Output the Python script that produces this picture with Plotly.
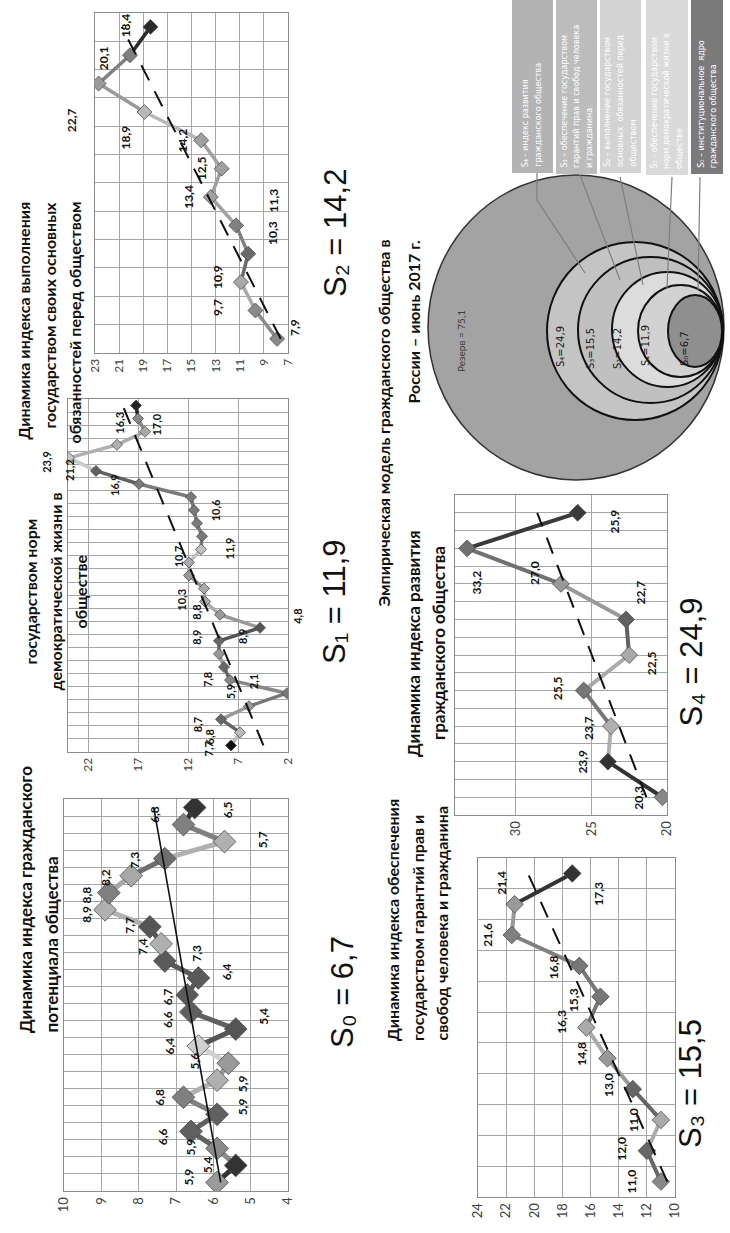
import numpy as np
import plotly.graph_objects as go

W, H = 730, 1233


def px(x):
    return x / W


def py(y):
    return 1 - y / H


def fmt(v):
    return f"{v:.1f}".replace(".", ",")


# ---------------- data ----------------
s0_values = [5.9, 5.4, 5.9, 6.6, 5.9, 6.8, 5.9, 5.6, 6.4, 5.4, 6.6, 6.7, 6.4, 7.3, 7.4, 7.7,
             8.9, 8.8, 8.2, 7.3, 5.7, 6.8, 6.5]
s1_values = [7.7, 6.8, 8.7, 5.9, 2.1, 7.8, 8.4, 8.9, 8.9, 4.8, 8.8, 10.3, 10.4, 11.9, 11.9,
             10.7, 10.6, 11.1, 11.4, 11.7, 16.9, 21.2, 23.9, 19.1, 16.3, 17.0, 17.2]
s2_values = [7.9, 9.7, 10.9, 10.3, 11.3, 13.4, 12.5, 14.2, 18.9, 22.7, 20.1, 18.4]
s3_values = [11.0, 12.0, 11.0, 13.0, 14.8, 16.3, 15.3, 16.8, 21.6, 21.4, 17.3]
s4_values = [20.3, 23.9, 23.7, 25.5, 22.5, 22.7, 27.0, 33.2, 25.9]

s0_ticks = [4, 5, 6, 7, 8, 9, 10]
s1_ticks = [2, 7, 12, 17, 22]
s2_ticks = [7, 9, 11, 13, 15, 17, 19, 21, 23]
s3_ticks = [10, 12, 14, 16, 18, 20, 22, 24]
s4_ticks = [20, 25, 30]

index_names = ["S₀", "S₁", "S₂", "S₃", "S₄"]
index_values = [6.7, 11.9, 14.2, 15.5, 24.9]
reserve_value = 75.1

s0_title = ["Динамика индекса гражданского", "потенциала общества"]
s1_title = ["государством норм", "демократической жизни в", "обществе"]
s2_title = ["Динамика индекса выполнения", "государством своих основных",
            "обязанностей перед обществом"]
s3_title = ["Динамика индекса обеспечения", "государством гарантий прав и",
            "свобод человека и гражданина"]
s4_title = ["Динамика индекса развития", "гражданского общества"]
model_title = ["Эмпирическая модель гражданского общества в", "России – июнь 2017 г."]

legend_texts = [
    ["S₄ - индекс развития", "гражданского общества"],
    ["S₃ – обеспечение государством", "гарантий прав и свобод человека", "и гражданина"],
    ["S₂ – выполнение государством", "основных  обязанностей перед", "обществом"],
    ["S₁ - обеспечение государством", "норм демократической жизни в", "обществе"],
    ["S₀ – институциональное  ядро", "гражданского общества"],
]

# ---------------- styling / layout constants ----------------
LAB_FONT = "Lato, 'Open Sans', Arial"
GRID = "#a6a6a6"

charts = [
    dict(values=s2_values, ticks=s2_ticks, rng=[7, 23], box=(95, 288, 12.7, 353), ydtick=1,
         colors=['#8a8a8a', '#8a8a8a', '#a8a8a8', '#6a6a6a', '#808080', '#a0a0a0', '#a0a0a0',
                 '#a0a0a0', '#b8b8b8', '#9a9a9a', '#808080', '#2a2a2a'],
         msize=11.5, lw=3.5, trend="dash", tfs=12, lfs=12,
         labels=[(0, 18, -11), (1, -38, -3), (2, -24, -5), (3, 25, -21), (4, 37, -25),
                 (5, -23, 0), (6, -20, 0), (7, -19, 0), (8, -19, 25), (9, -27, 37),
                 (10, -27, 3), (11, -25, -2)],
         title=s2_title, title_x=[11, 37.5, 62], title_y=200, title_fs=16,
         sname=2, spos=(335, 167)),
    dict(values=s1_values, ticks=s1_ticks, rng=[2, 24], box=(68, 288, 399, 752), ydtick=1,
         colors=['#111111', '#bbbbbb', '#666666', '#999999', '#777777', '#888888', '#666666',
                 '#999999', '#666666', '#555555', '#999999', '#aaaaaa', '#aaaaaa', '#999999',
                 '#aaaaaa', '#c0c0c0', '#7a7a7a', '#7a7a7a', '#7a7a7a', '#7a7a7a', '#7a7a7a',
                 '#606060', '#c8c8c8', '#b0b0b0', '#aaaaaa', '#888888', '#222222'],
         msize=8.5, lw=3.5, trend="dash", tfs=12, lfs=11,
         labels=[(0, -23, 4), (1, -31, 5), (2, -24, 6), (3, -19, -14), (4, -34, -11),
                 (5, -23, 0), (7, 24, -17), (8, -22, -3), (9, 38, -11), (10, -23, -2),
                 (11, -23, -2), (14, 40, -14), (15, -23, 7), (16, 13, -26), (20, -24, 1),
                 (21, -26, -1), (22, -22, 4), (24, -25, -9), (25, 19, 6)],
         title=s1_title, title_x=[18, 43, 68], title_y=592, title_fs=16,
         sname=1, spos=(335, 602)),
    dict(values=s0_values, ticks=s0_ticks, rng=[4, 10], box=(64, 288, 799, 1191), ydtick=1,
         colors=['#9a9a9a', '#333333', '#8a8a8a', '#606060', '#606060', '#808080', '#b0b0b0',
                 '#9a9a9a', '#d0d0d0', '#555555', '#606060', '#5a5a5a', '#5a5a5a', '#5a5a5a',
                 '#b0b0b0', '#555555', '#b0b0b0', '#808080', '#a8a8a8', '#6e6e6e', '#b0b0b0',
                 '#808080', '#333333'],
         msize=17.5, lw=5, trend="solid", tfs=13, lfs=12,
         labels=[(0, -29, -5), (1, -28, -1), (2, -27, -1), (3, -29, 5), (4, 25, -7),
                 (5, -24, 0), (6, 25, 4), (7, -34, -2), (8, -29, 0), (9, 27, -13),
                 (10, -24, 7), (11, -20, 2), (12, 29, -6), (13, 32, -8), (14, -18, 3),
                 (15, -20, -2), (16, -18, 5), (17, -22, 2), (18, -25, 2), (19, -30, 1),
                 (20, 38, -2), (21, -29, -10), (22, 33, 2)],
         title=s0_title, title_x=[13, 38], title_y=1035, title_fs=17,
         sname=0, spos=(342, 1050)),
    dict(values=s4_values, ticks=s4_ticks, rng=[20, 34], box=(455, 667, 495, 815), ydtick=0.5,
         colors=['#888888', '#333333', '#b0b0b0', '#777777', '#aaaaaa', '#606060', '#999999',
                 '#707070', '#3a3a3a'],
         msize=13, lw=4, trend="dash", tfs=13, lfs=12,
         labels=[(0, -24, 0), (1, -25, 0), (2, -23, 2), (3, -26, -2), (4, 22, 8),
                 (5, 14, -27), (6, -26, -11), (7, 9, 34), (8, 37, 9)],
         title=s4_title, title_x=[413, 438], title_y=643, title_fs=17,
         sname=4, spos=(710, 662)),
    dict(values=s3_values, ticks=s3_ticks, rng=[10, 24], box=(478, 675, 858, 1197), ydtick=1,
         colors=['#888888', '#666666', '#aaaaaa', '#666666', '#999999', '#aaaaaa', '#777777',
                 '#777777', '#808080', '#999999', '#333333'],
         msize=13.5, lw=4, trend="dash", tfs=13, lfs=12,
         labels=[(0, -29, 0), (1, -25, -2), (2, -27, 0), (3, -25, -4), (4, -26, -5),
                 (5, -25, -6), (6, -27, 3), (7, -25, 1), (8, -25, 0), (9, -13, -21),
                 (10, 26, 20)],
         title=s3_title, title_x=[392, 417, 441], title_y=1043, title_fs=16,
         sname=3, spos=(710, 1150)),
]

fig = go.Figure()
annotations = []
shapes = []
layout_axes = {}

for k, c in enumerate(charts, start=1):
    xa = "x" if k == 1 else f"x{k}"
    ya = "y" if k == 1 else f"y{k}"
    xkey = "xaxis" if k == 1 else f"xaxis{k}"
    ykey = "yaxis" if k == 1 else f"yaxis{k}"
    vals = c["values"]
    n = len(vals)
    idx = list(range(n))
    l, r, t, b = c["box"]
    layout_axes[xkey] = dict(
        domain=[px(l), px(r)], range=[c["rng"][1], c["rng"][0]], tickvals=c["ticks"],
        tickangle=-90, showgrid=True, gridcolor=GRID, gridwidth=1, showline=True,
        mirror=True, linecolor="#8c8c8c", linewidth=1, zeroline=False, anchor=ya,
        ticks="", automargin=False,
        tickfont=dict(family=LAB_FONT, size=c["tfs"], color="#404040"), fixedrange=True)
    layout_axes[ykey] = dict(
        domain=[py(b), py(t)], range=[-0.5, n - 0.5], tick0=-0.5, dtick=c["ydtick"],
        tickmode="linear", showticklabels=False, showgrid=True, gridcolor=GRID,
        gridwidth=1, showline=True, mirror=True, linecolor="#8c8c8c", linewidth=1,
        zeroline=False, anchor=xa, ticks="", automargin=False, fixedrange=True)

    cols = c["colors"]
    for i in range(n - 1):
        fig.add_trace(go.Scatter(x=[vals[i], vals[i + 1]], y=[i, i + 1], mode="lines",
                                 line=dict(color=cols[i + 1], width=c["lw"]),
                                 xaxis=xa, yaxis=ya, hoverinfo="skip"))
    fig.add_trace(go.Scatter(x=vals, y=idx, mode="markers",
                             marker=dict(symbol="diamond", size=c["msize"], color=cols,
                                         line=dict(color="#4d4d4d", width=0.8)),
                             xaxis=xa, yaxis=ya, hoverinfo="skip"))
    coef = np.polyfit(idx, vals, 1)
    tx = [0, n - 1]
    fig.add_trace(go.Scatter(x=[coef[1] + coef[0] * v for v in tx], y=tx, mode="lines",
                             line=dict(color="#111111",
                                       width=2 if c["trend"] == "dash" else 1.6,
                                       dash="17px,12px" if c["trend"] == "dash" else "solid"),
                             xaxis=xa, yaxis=ya, hoverinfo="skip"))
    for (i, dx, dy) in c["labels"]:
        annotations.append(dict(x=vals[i], y=i, xref=xa, yref=ya, xshift=dx, yshift=-dy,
                                text=fmt(vals[i]), textangle=-90, showarrow=False,
                                font=dict(family=LAB_FONT, size=c["lfs"], color="#111111",
                                          weight="bold")))
    for line_txt, lx in zip(c["title"], c["title_x"]):
        annotations.append(dict(x=px(lx), y=py(c["title_y"]), xref="paper", yref="paper",
                                text=line_txt, textangle=-90, showarrow=False,
                                font=dict(family=LAB_FONT, size=c["title_fs"], color="#111111",
                                          weight="bold")))
    si = c["sname"]
    annotations.append(dict(x=px(c["spos"][0]), y=py(c["spos"][1]), xref="paper", yref="paper",
                            text=f"{index_names[si]} = {fmt(index_values[si])}",
                            textangle=-90, showarrow=False,
                            font=dict(family="'Liberation Sans', 'DejaVu Sans'", size=31,
                                      color="#111111")))

# ---------------- circle model ----------------
for line_txt, lx in zip(model_title, [383, 413]):
    annotations.append(dict(x=px(lx), y=py(238), xref="paper", yref="paper", text=line_txt,
                            textangle=-90, showarrow=False,
                            font=dict(family=LAB_FONT, size=16, color="#111111", weight="bold")))

circles = [  # (left, right, top, bottom, fill)
    (428, 724, 175, 480, "#a3a3a3"),
    (547, 723, 242, 420, "#c4c4c4"),
    (578, 723, 257, 403, "#c0c0c0"),
    (612, 723, 272, 387, "#dcdcdc"),
    (638, 723, 285, 377, "#d2d2d2"),
    (668, 722, 295, 367, "#8f8f8f"),
]
for j, (l, r, t, b, fc) in enumerate(circles):
    shapes.append(dict(type="circle", xref="paper", yref="paper", x0=px(l), x1=px(r),
                       y0=py(b), y1=py(t), fillcolor=fc,
                       line=dict(color="#333333" if j == 0 else "#111111",
                                 width=1.5 if j == 0 else 2), layer="above"))

circle_label_pos = [(568, 324), (598, 326), (625, 326), (653, 323), (692, 329)]
annotations.append(dict(x=px(461), y=py(308), xref="paper", yref="paper",
                        text=f"Резерв = {fmt(reserve_value)}", textangle=-90, showarrow=False,
                        font=dict(family=LAB_FONT, size=10, color="#3a3a3a")))
for si, (lx, ly) in zip([4, 3, 2, 1, 0], circle_label_pos):
    annotations.append(dict(x=px(lx), y=py(ly), xref="paper", yref="paper",
                            text=f"{index_names[si]}={fmt(index_values[si])}",
                            textangle=-90, showarrow=False,
                            font=dict(family="'DejaVu Sans', Lato", size=10, color="#1a1a1a")))

# legend boxes
boxes = [  # (left, right, bottom, fill)
    (512, 553, 173, "#b3b3b3"),
    (556, 597, 174, "#bcbcbc"),
    (600, 641, 173, "#d3d3d3"),
    (646, 688, 175, "#dadada"),
    (691, 723, 174, "#7a7a7a"),
]
LINE_STEP = 12.5
for (l, r, b, fc), lines in zip(boxes, legend_texts):
    shapes.append(dict(type="rect", xref="paper", yref="paper", x0=px(l), x1=px(r),
                       y0=py(b), y1=py(-2), fillcolor=fc, line=dict(width=0), layer="above"))
    cx = (l + r) / 2
    nl = len(lines)
    for li, txt in enumerate(lines):
        lx = cx + (li - (nl - 1) / 2) * LINE_STEP
        annotations.append(dict(x=px(lx), y=py(b - 4), xref="paper", yref="paper",
                                xanchor="center", yanchor="bottom",
                                text=txt, textangle=-90, showarrow=False,
                                font=dict(family="'DejaVu Sans', Lato", size=8,
                                          color="#ffffff")))

connectors = [
    [(537, 173), (537, 200), (585, 273)],
    [(580, 175), (620, 280)],
    [(620, 177), (643, 285)],
    [(672, 177), (667, 288)],
    [(700, 177), (698, 290)],
]
for pts in connectors:
    path = "M " + " L ".join(f"{px(x):.5f},{py(y):.5f}" for x, y in pts)
    shapes.append(dict(type="path", xref="paper", yref="paper", path=path,
                       line=dict(color="#7f7f7f", width=1.2), layer="above"))

fig.update_layout(
    width=W, height=H, margin=dict(l=0, r=0, t=0, b=0, autoexpand=False),
    paper_bgcolor="white", plot_bgcolor="white", showlegend=False, hovermode=False,
    annotations=annotations, shapes=shapes, **layout_axes)

fig.write_html("out.html", config={"displayModeBar": False, "staticPlot": True},
               post_script="document.body.style.margin='0px';"
                           "document.body.style.overflow='hidden';")
